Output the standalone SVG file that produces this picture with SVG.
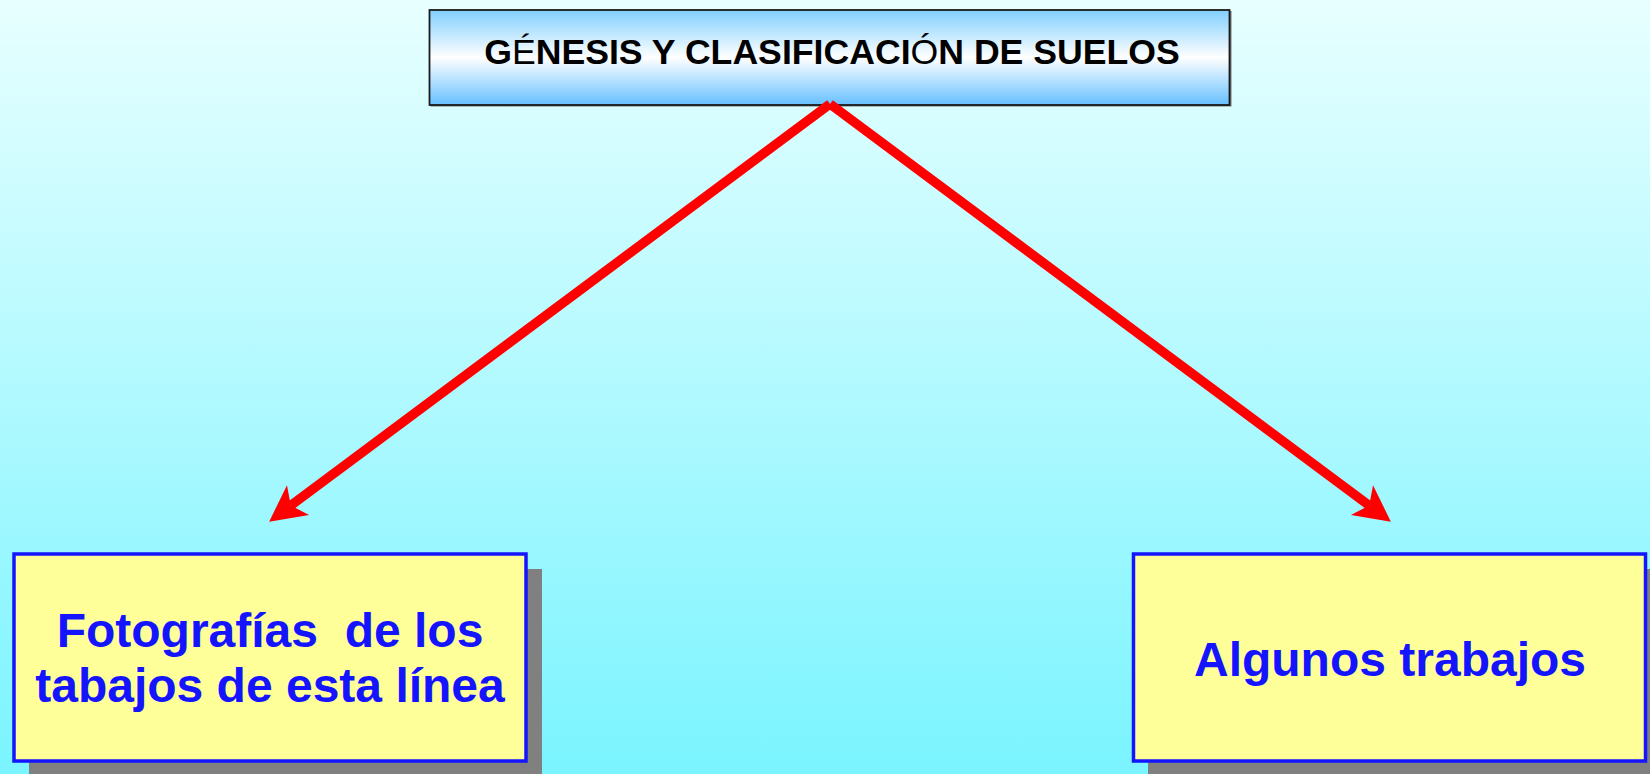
<svg xmlns="http://www.w3.org/2000/svg" width="1650" height="774" viewBox="0 0 1650 774">
<defs>
<linearGradient id="bg" x1="0" y1="0" x2="0" y2="1">
<stop offset="0" stop-color="#e8ffff"/>
<stop offset="1" stop-color="#7af4ff"/>
</linearGradient>
<linearGradient id="tbox" x1="0" y1="0" x2="0" y2="1">
<stop offset="0" stop-color="#80cfff"/>
<stop offset="0.5" stop-color="#ffffff"/>
<stop offset="1" stop-color="#66c0ff"/>
</linearGradient>
<marker id="ah" markerUnits="userSpaceOnUse" markerWidth="80" markerHeight="80" viewBox="-40 -40 80 80" refX="0" refY="0" orient="auto">
<path d="M27,0 L-9,-18.5 L0,0 L-9,18.5 Z" fill="#ff0000"/>
</marker>
<style>
.box{fill:#ffff99;stroke:#1414ff;stroke-width:3.5}
.shadow{fill:#808080}
.lbl{font-family:"Liberation Sans",Arial,sans-serif;font-weight:bold;font-size:48px;fill:#1414ff;text-anchor:middle;white-space:pre}
.ttl{font-family:"Liberation Sans",Arial,sans-serif;font-weight:bold;font-size:36px;fill:#000;text-anchor:middle}
.thin{font-weight:normal}
.conn{fill:none;stroke:#ff0000;stroke-width:9.5;stroke-linecap:butt}
</style>
</defs>
<rect x="0" y="0" width="1650" height="774" fill="url(#bg)"/>
<g id="title">
<rect x="430.5" y="11" width="801" height="95.5" fill="#777"/>
<rect x="429.5" y="10" width="800" height="95" fill="url(#tbox)" stroke="#1a1a1a" stroke-width="1.8"/>
<text class="ttl" transform="translate(832,63.5) scale(0.99,1)" x="0" y="0">G<tspan class="thin">É</tspan>NESIS Y CLASIFICACI<tspan class="thin">Ó</tspan>N DE SUELOS</text>
</g>
<g id="node-fotografias">
<rect class="shadow" x="29" y="569" width="513" height="210"/>
<rect class="box" x="14" y="554" width="512" height="207"/>
<text class="lbl" x="270" y="647" xml:space="preserve">Fotografías  de los</text>
<text class="lbl" x="270" y="702">tabajos de esta línea</text>
</g>
<g id="node-trabajos">
<rect class="shadow" x="1148" y="569" width="513" height="210"/>
<rect class="box" x="1133.5" y="554" width="512" height="207"/>
<text class="lbl" x="1390" y="676">Algunos trabajos</text>
</g>
<g id="connectors">
<path class="conn" d="M830,104 L290.8,505.5" marker-end="url(#ah)"/>
<path class="conn" d="M830,104 L1369.2,505.5" marker-end="url(#ah)"/>
</g>
</svg>
